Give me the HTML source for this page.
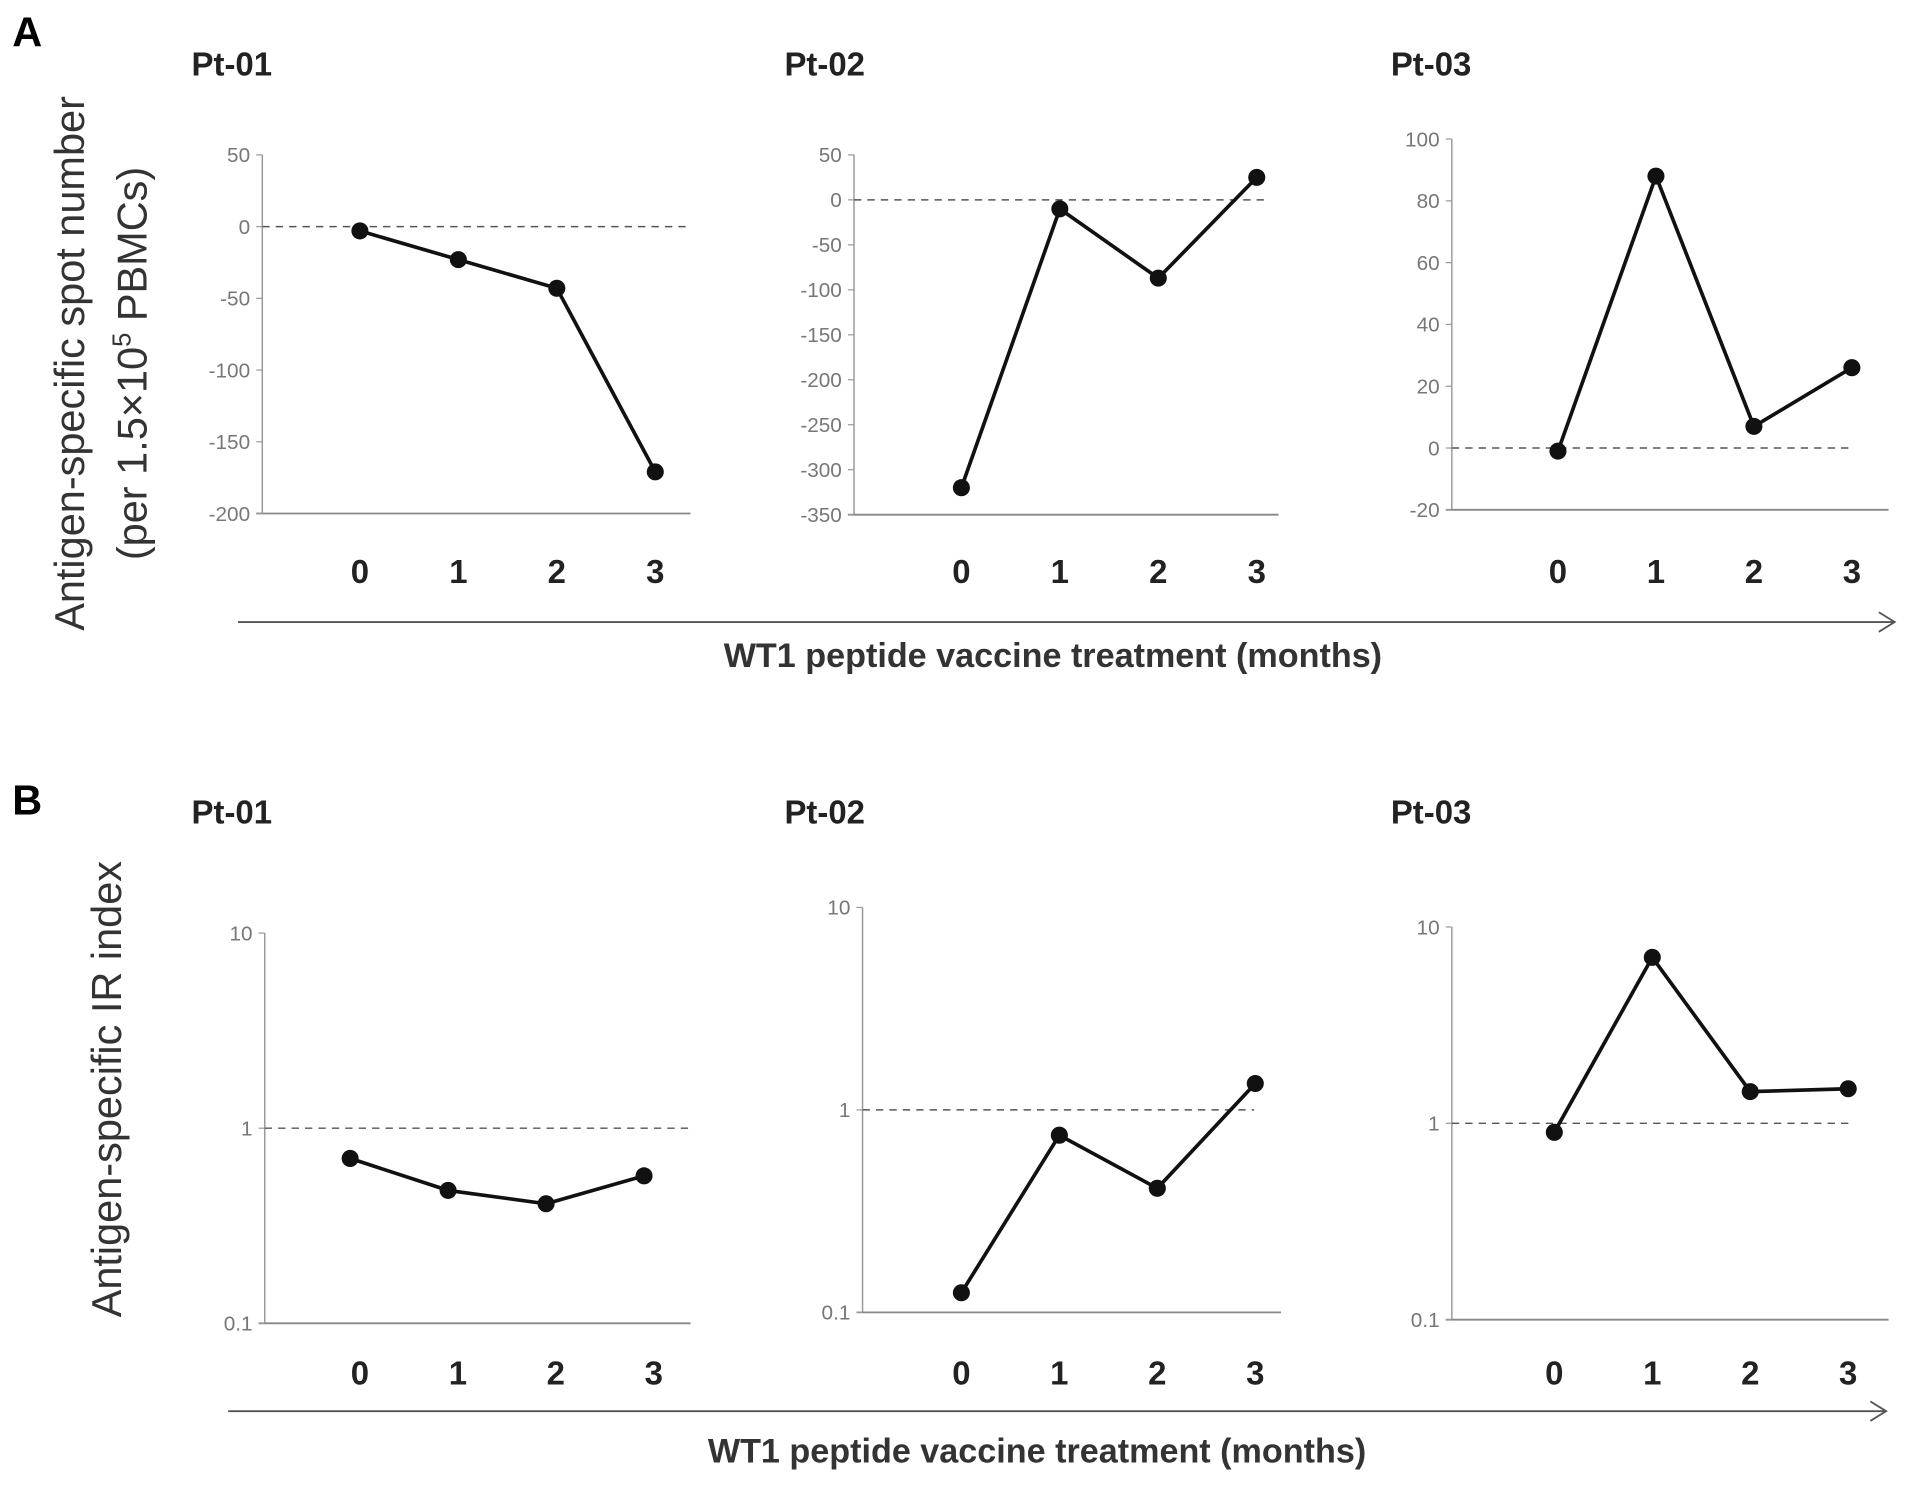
<!DOCTYPE html>
<html><head><meta charset="utf-8"><style>
html,body{margin:0;padding:0;background:#fff}
svg{display:block}
text{font-family:"Liberation Sans",sans-serif}
</style></head><body>
<svg id="fig" width="1913" height="1488" viewBox="0 0 1568 1220" preserveAspectRatio="none" xmlns="http://www.w3.org/2000/svg">
<text x="10" y="38" font-size="34" font-weight="bold">A</text>
<text x="10" y="668" font-size="34" font-weight="bold">B</text>
<text transform="translate(69,298) rotate(-90)" text-anchor="middle" font-size="34" fill="#333">Antigen-specific spot number</text>
<text transform="translate(120,298) rotate(-90)" text-anchor="middle" font-size="34" fill="#333">(per 1.5×10<tspan dy="-13" font-size="21">5</tspan><tspan dy="13"> PBMCs)</tspan></text>
<text transform="translate(99,893) rotate(-90)" text-anchor="middle" font-size="34" fill="#333">Antigen-specific IR index</text>
<line x1="195" y1="510" x2="1553" y2="510" stroke="#555" stroke-width="1.5"/>
<polyline points="1540,502 1553,510 1540,518" fill="none" stroke="#555" stroke-width="1.5"/>
<text x="863" y="547" text-anchor="middle" font-size="28" font-weight="bold" fill="#333">WT1 peptide vaccine treatment  (months)</text>
<line x1="187" y1="1157" x2="1546" y2="1157" stroke="#555" stroke-width="1.5"/>
<polyline points="1533,1149 1546,1157 1533,1165" fill="none" stroke="#555" stroke-width="1.5"/>
<text x="850" y="1199" text-anchor="middle" font-size="28" font-weight="bold" fill="#333">WT1 peptide vaccine treatment  (months)</text>
<g id="panels"></g>
</svg>
<script>
const months = ["0","1","2","3"];
const a1Values = [-3, -23, -43, -171];
const a2Values = [-320, -10, -87, 25];
const a3Values = [-1, 88, 7, 26];
const a1Ticks = [50, 0, -50, -100, -150, -200];
const a2Ticks = [50, 0, -50, -100, -150, -200, -250, -300, -350];
const a3Ticks = [100, 80, 60, 40, 20, 0, -20];
const b1Values = [0.7, 0.48, 0.41, 0.57];
const b2Values = [0.125, 0.75, 0.41, 1.35];
const b3Values = [0.9, 7, 1.45, 1.5];
const logTicks = [10, 1, 0.1];
const logTickLabels = ["10", "1", "0.1"];

const NS = "http://www.w3.org/2000/svg";
const root = document.getElementById("panels");
function mk(tag, attrs, parent) {
  const e = document.createElementNS(NS, tag);
  for (const k in attrs) e.setAttribute(k, attrs[k]);
  parent.appendChild(e);
  return e;
}
function panel(cfg) {
  const g = mk("g", {}, root);
  
  
  const tr = v => cfg.log ? Math.log10(v) : v;
  const y = v => cfg.yTop + (tr(cfg.max) - tr(v)) / (tr(cfg.max) - tr(cfg.min)) * (cfg.yBot - cfg.yTop);
  const x = i => cfg.x0 + i * cfg.dx;
  const t = mk("text", {x: cfg.titleX, y: cfg.titleY, "font-size": 27, "font-weight": "bold", fill: "#222"}, g);
  t.textContent = cfg.title;
  
  
  mk("line", {x1: cfg.ax, y1: y(cfg.max), x2: cfg.ax, y2: cfg.yBot, stroke: "#999", "stroke-width": 1.2}, g);
  mk("line", {x1: cfg.ax - 5, y1: cfg.yBot, x2: cfg.axEnd, y2: cfg.yBot, stroke: "#888", "stroke-width": 1.5}, g);
  cfg.ticks.forEach((v, i) => {
    mk("line", {x1: cfg.ax - 5, y1: y(v), x2: cfg.ax, y2: y(v), stroke: "#999", "stroke-width": 1}, g);
    const tl = mk("text", {x: cfg.ax - 10, y: y(v) + 6, "text-anchor": "end", "font-size": 17, fill: "#777"}, g);
    tl.textContent = cfg.labels ? cfg.labels[i] : String(v);
    
    
  });
  mk("line", {x1: cfg.ax, y1: y(cfg.ref), x2: cfg.dashEnd, y2: y(cfg.ref), stroke: "#555", "stroke-width": 1.2, "stroke-dasharray": "6,5"}, g);
  const lo = cfg.labelOffset || 0;
  months.forEach((m, i) => {
    const xl = mk("text", {x: x(i) + lo, y: cfg.xlY, "text-anchor": "middle", "font-size": 27, "font-weight": "bold", fill: "#222"}, g);
    xl.textContent = m;
    
    
  });
  const pl = mk("polyline", {points: cfg.values.map((v, i) => x(i) + "," + y(v)).join(" "), fill: "none", stroke: "#111", "stroke-width": 3}, g);
  
  
  cfg.values.forEach((v, i) => {
    const c = mk("circle", {cx: x(i), cy: y(v), r: 7, fill: "#111"}, g);
    
    
  });
}
panel({name:"chart-a-pt01", title:"Pt-01", titleX:157, titleY:62, ax:215, axEnd:566, dashEnd:566, yTop:127, yBot:421, max:50, min:-200, ticks:a1Ticks, ref:0, x0:295, dx:80.7, xlY:478, values:a1Values});
panel({name:"chart-a-pt02", title:"Pt-02", titleX:643, titleY:62, ax:700, axEnd:1048, dashEnd:1040, yTop:127, yBot:422, max:50, min:-350, ticks:a2Ticks, ref:0, x0:788, dx:80.7, xlY:478, values:a2Values});
panel({name:"chart-a-pt03", title:"Pt-03", titleX:1140, titleY:62, ax:1190, axEnd:1548, dashEnd:1515, yTop:114, yBot:418, max:100, min:-20, ticks:a3Ticks, ref:0, x0:1277, dx:80.3, xlY:478, values:a3Values});
panel({name:"chart-b-pt01", title:"Pt-01", titleX:157, titleY:675, log:true, ax:217, axEnd:566, dashEnd:566, yTop:765, yBot:1085, max:10, min:0.1, ticks:logTicks, labels:logTickLabels, ref:1, x0:287, dx:80.3, labelOffset:8, xlY:1135, values:b1Values});
panel({name:"chart-b-pt02", title:"Pt-02", titleX:643, titleY:675, log:true, ax:707, axEnd:1050, dashEnd:1028, yTop:744, yBot:1076, max:10, min:0.1, ticks:logTicks, labels:logTickLabels, ref:1, x0:788, dx:80.3, xlY:1135, values:b2Values});
panel({name:"chart-b-pt03", title:"Pt-03", titleX:1140, titleY:675, log:true, ax:1190, axEnd:1548, dashEnd:1515, yTop:760, yBot:1082, max:10, min:0.1, ticks:logTicks, labels:logTickLabels, ref:1, x0:1274, dx:80.3, xlY:1135, values:b3Values});
</script>
</body></html>
